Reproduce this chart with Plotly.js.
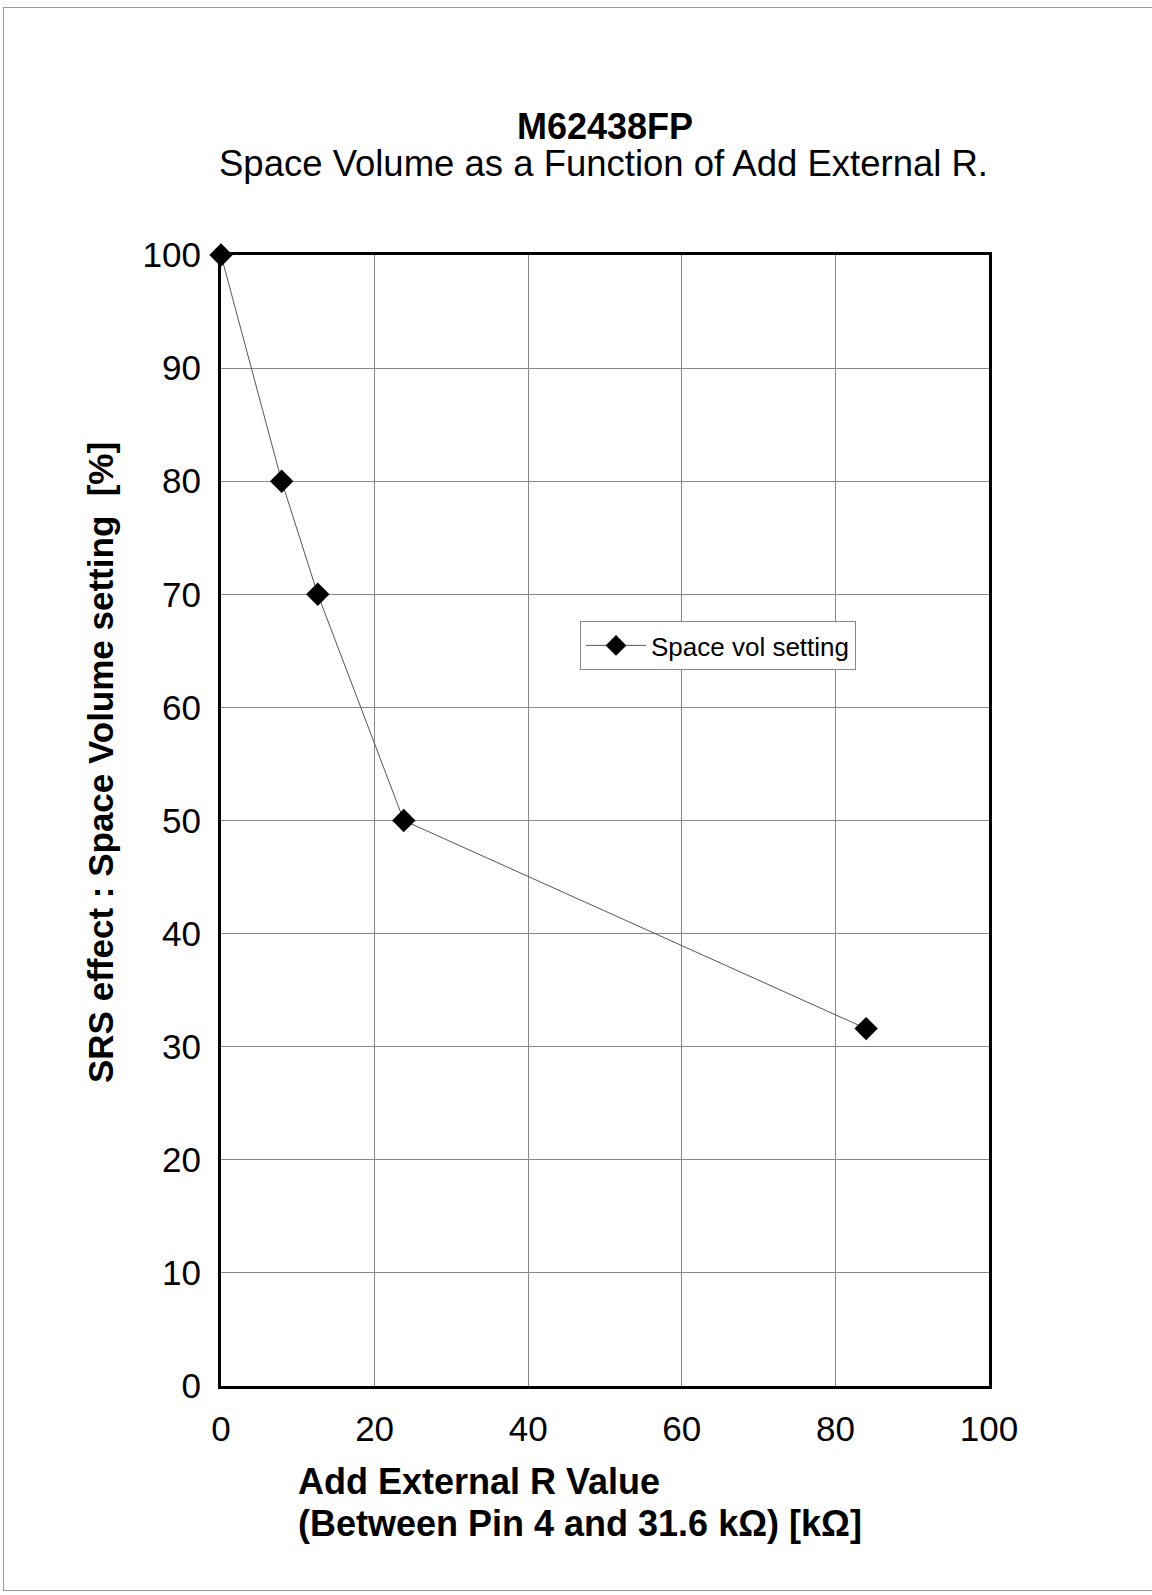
<!DOCTYPE html>
<html><head><meta charset="utf-8">
<script src="https://cdn.plot.ly/plotly-3.0.1.min.js"></script>
<style>
html,body{margin:0;padding:0;background:#fff;}
#wrap{position:relative;width:1152px;height:1595px;}
#frame{position:absolute;left:3px;top:7px;width:1150px;height:1584px;border:1px solid #999;box-sizing:border-box;pointer-events:none;}
#chart{position:absolute;left:0;top:0;width:1152px;height:1595px;}
</style></head>
<body><div id="wrap"><div id="chart"></div><div id="frame"></div></div>
<script>
const resistance = [0, 7.9, 12.6, 23.8, 84.0];
const volumeSetting = [100, 80, 70, 50, 31.6];
const xTicks = [0, 20, 40, 60, 80, 100];
const yTicks = [0, 10, 20, 30, 40, 50, 60, 70, 80, 90, 100];
const seriesName = 'Space vol setting';
const FONT = '"Liberation Sans", Arial, Helvetica, sans-serif';

const trace = {
  x: resistance, y: volumeSetting, name: seriesName, type: 'scatter', mode: 'lines+markers',
  line: {color: '#555', width: 1},
  marker: {symbol: 'diamond', size: 18, color: '#000'},
  cliponaxis: false
};
const py = v => (1386 - v) / 1131;
const px = v => (v - 221) / 768;
const layout = {
  width: 1152, height: 1595,
  margin: {l: 221, r: 163, t: 255, b: 209},
  paper_bgcolor: '#fff', plot_bgcolor: '#fff',
  font: {family: FONT, color: '#000'},
  showlegend: true,
  legend: {x: px(580), y: py(621), xanchor: 'left', yanchor: 'top', bgcolor: '#fff',
    bordercolor: '#888', borderwidth: 1, font: {size: 26, family: FONT}, itemwidth: 60,
    tracegroupgap: 0},
  xaxis: {range: [0, 100], tickvals: xTicks, ticktext: xTicks.map(String), showgrid: true,
    gridcolor: '#888', gridwidth: 1, showline: true, linecolor: '#000', linewidth: 3, mirror: true,
    zeroline: false, ticks: '', tickfont: {size: 35, family: FONT}, ticklabelstandoff: 10},
  yaxis: {range: [0, 100], tickvals: yTicks, ticktext: yTicks.map(String), showgrid: true,
    gridcolor: '#888', gridwidth: 1, showline: true, linecolor: '#000', linewidth: 3, mirror: true,
    zeroline: false, ticks: '', tickfont: {size: 35, family: FONT}, ticklabelstandoff: 10},
  annotations: [
    {text: '<b>M62438FP</b>', xref: 'paper', yref: 'paper', x: px(605), y: py(127),
     xanchor: 'center', yanchor: 'middle', showarrow: false, font: {size: 36, family: FONT}},
    {text: 'Space Volume as a Function of Add External R.', xref: 'paper', yref: 'paper', x: px(603), y: py(163),
     xanchor: 'center', yanchor: 'middle', showarrow: false, font: {size: 36.5, family: FONT}},
    {text: '<b>SRS effect : Space Volume setting  [%]</b>', xref: 'paper', yref: 'paper',
     x: px(100), y: py(763), textangle: -90, xanchor: 'center', yanchor: 'middle',
     showarrow: false, font: {size: 35, family: FONT}},
    {text: '<b>Add External R Value</b>', xref: 'paper', yref: 'paper',
     x: px(296), y: py(1481), xanchor: 'left', yanchor: 'middle',
     showarrow: false, font: {size: 36, family: FONT}},
    {text: '<b>(Between Pin 4 and 31.6 kΩ) [kΩ]</b>', xref: 'paper', yref: 'paper',
     x: px(296), y: py(1523), xanchor: 'left', yanchor: 'middle',
     showarrow: false, font: {size: 36, family: FONT}}
  ]
};
Plotly.newPlot('chart', [trace], layout, {displayModeBar: false, staticPlot: true});
</script></body></html>
